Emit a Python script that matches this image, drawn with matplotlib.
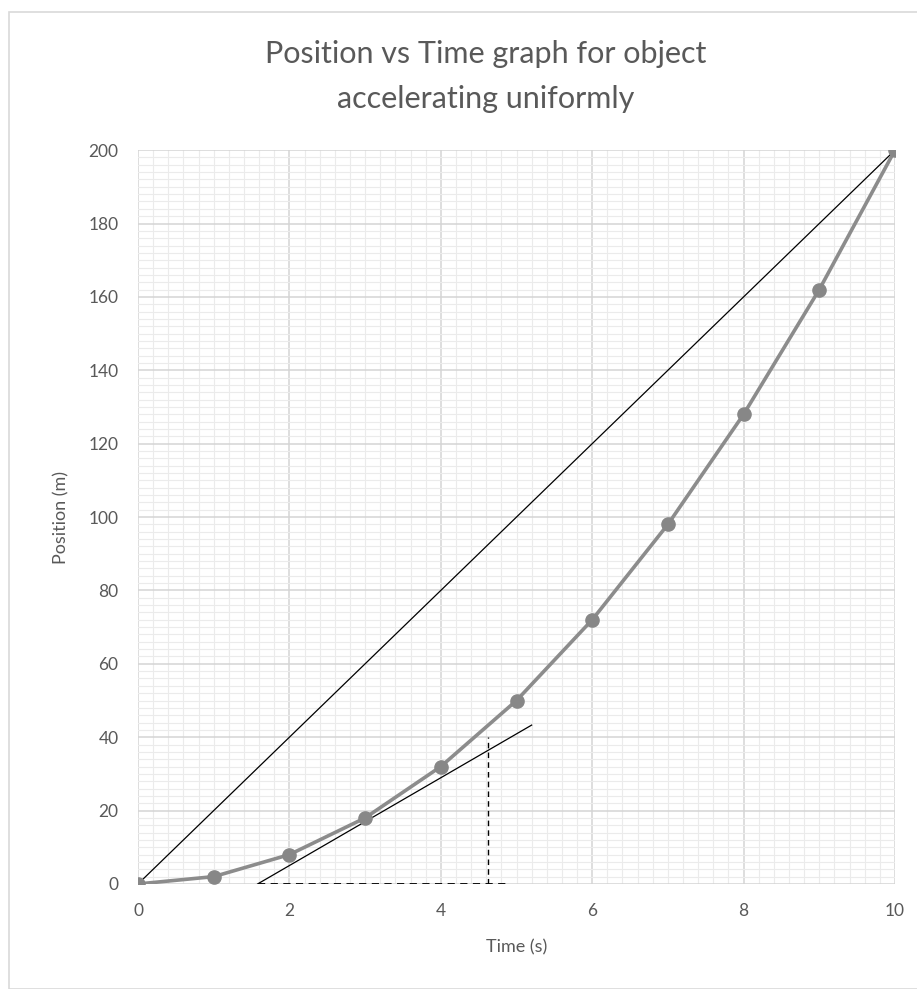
import numpy as np
import matplotlib.pyplot as plt
from matplotlib.patches import Rectangle
from matplotlib.ticker import MultipleLocator

# data
time_s = [0, 1, 2, 3, 4, 5, 6, 7, 8, 9, 10]
position_m = [0, 2, 8, 18, 32, 50, 72, 98, 128, 162, 200]

# straight line from start to end point
secant_x = [0, 10]
secant_y = [0, 200]

# hand-drawn tangent near t=3 and its dashed rise/run triangle
tangent_x = [1.58, 5.2]
tangent_y = [0, 43.3]
run_x = [1.58, 4.92]
run_y = [0, 0]
rise_x = [4.63, 4.63]
rise_y = [0, 40]

plt.rcParams['font.family'] = ['Lato', 'DejaVu Sans']
txt = '#595959'

fig = plt.figure(figsize=(9.17, 9.89), dpi=100)
ax = fig.add_axes([0.1505, 0.1062, 0.8255, 0.742])

# outer chart border
fig.patches.append(Rectangle((9 / 917, 0), 1, 1 - 12 / 989, transform=fig.transFigure,
                             fill=False, edgecolor='#d9d9d9', linewidth=1.2))

ax.plot(secant_x, secant_y, color='black', linewidth=0.9, zorder=3)
ax.plot(tangent_x, tangent_y, color='black', linewidth=0.9, zorder=3)
ax.plot(run_x, run_y, color='black', linewidth=1.3, linestyle=(0, (4, 3)), zorder=4)
ax.plot(rise_x, rise_y, color='black', linewidth=1.0, linestyle=(0, (4, 3)), zorder=4)
ax.plot(time_s, position_m, color='#8c8c8c', linewidth=2.6, marker='o',
        markersize=9.5, markerfacecolor='#878787', markeredgecolor='#878787', zorder=5)

ax.set_xlim(0, 10)
ax.set_ylim(0, 200)
ax.xaxis.set_major_locator(MultipleLocator(2))
ax.xaxis.set_minor_locator(MultipleLocator(0.2))
ax.yaxis.set_major_locator(MultipleLocator(20))
ax.yaxis.set_minor_locator(MultipleLocator(2))
ax.grid(which='major', color='#d4d4d4', linewidth=1.1)
ax.grid(which='minor', color='#ebebeb', linewidth=0.8)
ax.set_axisbelow(True)
for s in ax.spines.values():
    s.set_visible(False)
ax.tick_params(which='both', length=0, colors=txt, labelsize=12.5, pad=14)

ax.set_xlabel('Time (s)', color=txt, fontsize=13, labelpad=14)
ax.set_ylabel('Position (m)', color=txt, fontsize=13, labelpad=14)
fig.text(0.53, 0.945, 'Position vs Time graph for object', ha='center', va='center',
         fontsize=22, color=txt)
fig.text(0.53, 0.9, 'accelerating uniformly', ha='center', va='center',
         fontsize=22, color=txt)

fig.savefig('out.png', dpi=100)
